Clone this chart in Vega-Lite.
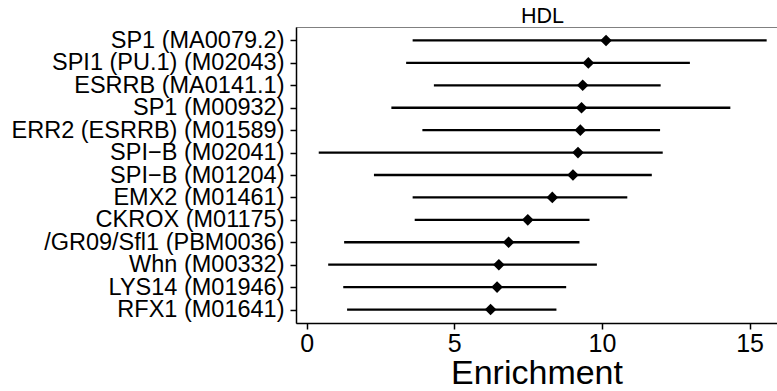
{
  "$schema": "https://vega.github.io/schema/vega-lite/v6.json",
  "width": 481,
  "height": 296,
  "autosize": {"type": "none"},
  "padding": {"left": 296, "top": 27, "right": 0, "bottom": 68},
  "background": "white",
  "title": {"text": "HDL", "font": "Liberation Sans", "fontSize": 21.5, "fontWeight": "normal", "color": "black", "anchor": "middle", "baseline": "alphabetic", "offset": 0, "dx": 6, "dy": 17},
  "config": {
    "view": {"stroke": "#808080", "strokeWidth": 1},
    "axis": {"grid": false, "domainColor": "black", "domainWidth": 1.5, "tickColor": "black", "tickWidth": 1.5, "tickSize": 6, "labelColor": "black", "labelFont": "Liberation Sans", "titleFont": "Liberation Sans", "titleColor": "black", "titleFontWeight": "normal", "labelLimit": 0}
  },
  "data": {
    "values": [
      {"motif": "SP1 (MA0079.2)", "est": 10.14, "lo": 3.59, "hi": 15.58},
      {"motif": "SPI1 (PU.1) (M02043)", "est": 9.54, "lo": 3.37, "hi": 12.98},
      {"motif": "ESRRB (MA0141.1)", "est": 9.35, "lo": 4.31, "hi": 11.99},
      {"motif": "SP1 (M00932)", "est": 9.31, "lo": 2.87, "hi": 14.35},
      {"motif": "ERR2 (ESRRB) (M01589)", "est": 9.27, "lo": 3.92, "hi": 11.97},
      {"motif": "SPI−B (M02041)", "est": 9.19, "lo": 0.41, "hi": 12.06},
      {"motif": "SPI−B (M01204)", "est": 9.02, "lo": 2.28, "hi": 11.69},
      {"motif": "EMX2 (M01461)", "est": 8.32, "lo": 3.59, "hi": 10.86},
      {"motif": "CKROX (M01175)", "est": 7.49, "lo": 3.66, "hi": 9.58},
      {"motif": "/GR09/Sfl1 (PBM0036)", "est": 6.84, "lo": 1.27, "hi": 9.24},
      {"motif": "Whn (M00332)", "est": 6.51, "lo": 0.73, "hi": 9.83},
      {"motif": "LYS14 (M01946)", "est": 6.45, "lo": 1.24, "hi": 8.79},
      {"motif": "RFX1 (M01641)", "est": 6.23, "lo": 1.37, "hi": 8.46}
    ]
  },
  "encoding": {
    "y": {
      "field": "motif", "type": "nominal", "sort": null,
      "scale": {"type": "point", "padding": 0.6},
      "axis": {"title": null, "labelFontSize": 23.5, "labelPadding": 6, "domain": true}
    }
  },
  "layer": [
    {
      "mark": {"type": "rule", "color": "black", "strokeWidth": 2.3},
      "encoding": {
        "x": {"field": "lo", "type": "quantitative", "scale": {"domain": [-0.36, 15.93], "nice": false, "zero": false},
          "axis": {"title": "Enrichment", "values": [0, 5, 10, 15], "labelFontSize": 25, "labelPadding": 2, "titleFontSize": 34, "titlePadding": 0}},
        "x2": {"field": "hi"}
      }
    },
    {
      "mark": {"type": "point", "shape": "diamond", "filled": true, "color": "black", "size": 135, "opacity": 1},
      "encoding": {
        "x": {"field": "est", "type": "quantitative"}
      }
    }
  ]
}
